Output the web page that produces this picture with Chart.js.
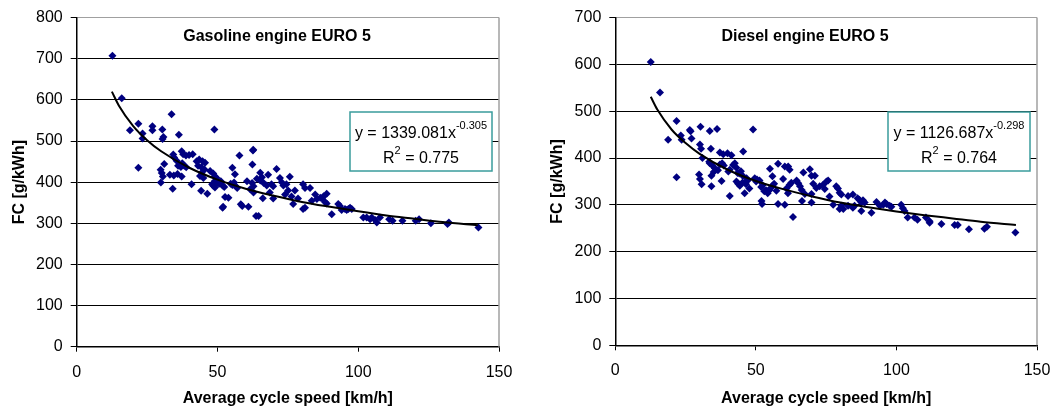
<!DOCTYPE html>
<html>
<head>
<meta charset="utf-8">
<script src="https://cdn.jsdelivr.net/npm/chart.js@4.4.0/dist/chart.umd.min.js"></script>
<style>
  html, body { margin: 0; padding: 0; background: #fff; }
  .wrap { position: relative; width: 1056px; height: 412px; }
  .wrap canvas { position: absolute; top: 0; }
</style>
</head>
<body>
<div class="wrap">
  <canvas id="gasoline" width="528" height="412" style="left:0"></canvas>
  <canvas id="diesel" width="528" height="412" style="left:528px"></canvas>
</div>
<script>
// ---- data ----
const xTicks = [0, 50, 100, 150];

const gasolineSpeed = [
  12.7, 16.0, 18.9, 21.9, 21.9, 23.4, 23.4, 26.9, 26.9, 30.4, 30.5, 30.8, 29.9, 29.8, 30.2, 30.6, 31.1,
  33.7, 36.3, 34.1, 33.1, 34.5, 35.8, 37.3, 34.3, 34.6, 35.5, 36.0, 37.3, 37.8, 38.8, 39.9, 41.2, 37.5, 38.2, 38.9, 37.0, 40.8,
  42.6, 43.5, 44.7, 45.6, 43.1, 44.3, 45.4, 43.8, 44.4, 45.0, 44.2, 46.4,
  47.4, 48.5, 49.1, 49.7, 49.1, 48.1, 48.5, 49.1, 51.2, 50.1, 50.6, 51.8, 52.4, 52.0, 51.8, 52.7, 53.9, 55.3, 56.2, 55.3,
  56.5, 55.9, 54.7, 57.0, 57.8, 58.3, 58.8, 48.9,
  61.0, 62.4, 62.6, 62.7, 60.5, 62.3, 62.8, 61.6, 62.8, 63.7, 64.0, 65.2, 66.4, 67.5, 65.2, 65.8, 66.1, 64.6,
  68.0, 69.2, 69.8, 68.6, 69.8, 71.0, 72.2, 72.8, 73.4, 74.0, 74.5, 75.1, 75.7, 76.3, 76.9, 77.5, 78.6, 80.4, 81.1, 82.9, 80.4, 81.1,
  83.5, 84.7, 85.3, 86.5, 87.1, 87.7, 88.8, 88.2, 88.8, 90.6, 92.9, 93.5, 94.1, 95.3, 95.9, 96.5, 97.1, 97.7,
  101.8, 103.0, 104.2, 104.8, 106.0, 106.6, 107.7, 111.0, 112.2, 115.7, 120.4, 121.6, 125.8, 131.7, 132.2, 142.7
];
const gasolineFC = [
  707, 604, 526, 542, 435, 518, 506, 536, 526, 528, 505, 510, 399, 430, 422, 414, 444,
  565, 515, 384, 418, 416, 420, 414, 467, 460, 452, 440, 475, 468, 465, 466, 468, 446, 440, 436, 437, 395,
  451, 455, 451, 447, 440, 436, 431, 415, 423, 410, 379, 372,
  427, 421, 414, 410, 403, 395, 391, 387, 402, 398, 396, 392, 388, 340, 338, 364, 362, 435, 419, 393,
  390, 399, 396, 386, 465, 346, 342, 528,
  340, 443, 477, 479, 402, 398, 390, 383, 375, 318, 408, 404, 398, 392, 423, 412, 361, 318,
  418, 395, 390, 375, 360, 432, 410, 400, 392, 370, 395, 380, 413, 365, 347, 380, 360, 395, 386, 386, 335, 338,
  355, 370, 359, 362, 361, 366, 372, 352, 348, 322, 347, 342, 332, 335, 332, 335, 338, 335,
  314, 314, 310, 314, 308, 302, 314, 310, 306, 306, 306, 310, 300, 298, 302, 290
];
const gasolineTrendSpeed = [12.5, 15, 20, 25, 30, 40, 50, 60, 70, 80, 90, 100, 110, 120, 130, 142.5];
const gasolineTrendFC = [620, 586, 537, 502, 475, 435, 406, 384, 367, 352, 340, 329, 319, 311, 303, 295];

const dieselSpeed = [
  12.6, 15.9, 18.8, 21.8, 21.8, 23.3, 23.6, 26.5, 26.8, 27.1, 30.3, 30.1, 30.5, 31.0, 29.8, 30.1, 30.7,
  33.6, 36.2, 34.0, 34.2, 33.4, 33.6, 34.5, 35.4, 35.0, 34.2, 36.5, 37.2, 37.8, 37.2, 38.4, 39.9, 41.3, 40.7,
  38.0, 38.6, 40.2, 40.7, 41.9, 42.5, 43.1, 43.5, 44.1, 44.7, 45.3, 45.5, 46.7,
  43.1, 43.7, 44.3, 45.3, 46.5, 47.1, 47.7, 46.0, 49.0, 49.6, 50.1, 50.4, 51.3, 51.9, 52.4, 53.0, 53.6, 54.2, 54.8,
  55.3, 55.9, 52.0, 52.2, 55.0, 55.9, 56.5, 57.3, 57.9, 57.9,
  59.7, 60.3, 60.3, 60.9, 61.4, 61.5, 62.0, 62.6, 63.2, 62.0, 64.5, 65.1, 65.7, 66.3, 66.9, 67.4, 66.4, 69.2, 69.8,
  71.0, 70.4, 69.8, 69.8, 71.5,
  72.7, 73.9, 74.5, 75.1, 75.7, 76.2, 77.5, 78.6, 79.2, 79.8, 79.8, 80.4, 80.4, 81.1, 82.8, 82.8, 84.5, 84.5, 85.1,
  86.2, 86.8, 87.5, 88.1, 88.7, 87.5, 91.1,
  92.9, 94.1, 95.3, 95.9, 96.5, 97.6, 98.2, 101.7, 102.3, 102.9, 104.0, 106.4, 107.5, 110.5, 111.8, 111.8, 116.0,
  120.7, 121.8, 125.8, 131.3, 132.2, 142.3
];
const dieselFC = [
  605, 540, 439, 479, 359, 448, 439, 460, 457, 442, 467, 429, 420, 400, 365, 355, 344,
  458, 462, 420, 340, 392, 389, 384, 378, 370, 362, 374, 386, 351, 412, 408, 410, 406, 319,
  389, 384, 371, 375, 385, 389, 379, 368, 367, 372, 362, 414, 357,
  350, 345, 341, 348, 344, 352, 335, 325, 461, 357, 350, 354, 352, 338, 342, 329, 331, 325, 331,
  336, 341, 308, 302, 377, 361, 345, 330, 388, 302,
  355, 300, 382, 335, 325, 382, 375, 347, 274, 343, 352, 346, 340, 332, 369, 323, 308, 376, 362,
  362, 345, 323, 305, 336,
  340, 343, 334, 350, 352, 318, 300, 340, 335, 326, 291, 322, 298, 291, 319, 298, 322, 294, 298,
  314, 311, 305, 310, 305, 287, 283,
  306, 298, 300, 305, 302, 298, 296, 300, 293, 287, 273, 273, 268, 273, 265, 262, 259,
  257, 257, 248, 249, 253, 241
];
const dieselTrendSpeed = [12.6, 15, 20, 25, 30, 40, 50, 60, 70, 80, 90, 100, 110, 120, 130, 142.5];
const dieselTrendFC = [531, 503, 461, 432, 409, 375, 351, 333, 318, 305, 295, 286, 278, 271, 264, 257];

const FONT = '"Liberation Sans", Arial, sans-serif';

// title + equation box, drawn inside the plot area like the Excel original
const overlay = {
  id: 'overlay',
  afterDraw(chart, args, o) {
    const { ctx, chartArea: a } = chart;
    ctx.save();
    ctx.fillStyle = '#000';
    ctx.font = 'bold 16px ' + FONT;
    ctx.textAlign = 'center';
    ctx.textBaseline = 'middle';
    ctx.fillText(o.title, o.titleX, 37);

    // equation box
    const bw = 142, bh = 59;
    const bx = a.right - 7 - bw, by = 112;
    ctx.fillStyle = '#fff';
    ctx.fillRect(bx, by, bw, bh);
    ctx.strokeStyle = '#3a9c9c';
    ctx.lineWidth = 1.5;
    ctx.strokeRect(bx, by, bw, bh);

    const cx = bx + bw / 2;
    ctx.textAlign = 'left';
    ctx.textBaseline = 'alphabetic';
    ctx.fillStyle = '#000';
    // line 1: y = a x^b
    ctx.font = '16px ' + FONT;
    const w1 = ctx.measureText(o.eq).width;
    ctx.font = '11px ' + FONT;
    const w2 = ctx.measureText(o.exp).width;
    let x = cx - (w1 + w2) / 2;
    ctx.font = '16px ' + FONT;
    ctx.fillText(o.eq, x, 138);
    ctx.font = '11px ' + FONT;
    ctx.fillText(o.exp, x + w1, 129);
    // line 2: R^2 = ...
    ctx.font = '16px ' + FONT;
    const wr = ctx.measureText('R').width;
    const wv = ctx.measureText(o.r2).width;
    ctx.font = '11px ' + FONT;
    const ws = ctx.measureText('2').width;
    x = cx - (wr + ws + wv) / 2;
    ctx.font = '16px ' + FONT;
    ctx.fillText('R', x, 163);
    ctx.fillText(o.r2, x + wr + ws, 163);
    ctx.font = '11px ' + FONT;
    ctx.fillText('2', x + wr, 154);
    ctx.restore();
  },
  beforeDatasetsDraw(chart) {
    // grey plot-area frame on the right
    const { ctx, chartArea: a } = chart;
    ctx.save();
    ctx.strokeStyle = '#a0a0a0';
    ctx.lineWidth = 1.5;
    ctx.beginPath();
    ctx.moveTo(a.right, a.top);
    ctx.lineTo(a.right, a.bottom);
    ctx.stroke();
    ctx.restore();
  }
};

function makeChart(id, c) {
  const points = c.speed.map((s, i) => ({ x: s, y: c.fc[i] }));
  const trend = c.trendSpeed.map((s, i) => ({ x: s, y: c.trendFC[i] }));
  return new Chart(document.getElementById(id), {
    type: 'scatter',
    data: {
      datasets: [
        {
          data: trend,
          showLine: true,
          borderColor: '#000',
          borderWidth: 2,
          pointRadius: 0,
          cubicInterpolationMode: 'monotone',
          fill: false
        },
        {
          data: points,
          pointStyle: 'rectRot',
          pointRadius: 4,
          backgroundColor: '#000080',
          borderColor: '#000080',
          borderWidth: 0
        }
      ]
    },
    options: {
      responsive: false,
      animation: false,
      events: [],
      layout: { padding: { left: 0, top: c.top, right: c.right, bottom: 0 } },
      plugins: {
        legend: { display: false },
        tooltip: { enabled: false },
        overlay: { title: c.title, titleX: c.titleX, eq: c.eq, exp: c.exp, r2: c.r2 }
      },
      scales: {
        x: {
          type: 'linear',
          min: xTicks[0],
          max: xTicks[xTicks.length - 1],
          afterBuildTicks: s => { s.ticks = xTicks.map(v => ({ value: v })); },
          afterFit: s => { s.height = c.xHeight; s.paddingLeft = 0; s.paddingRight = 0; },
          ticks: { color: '#000', font: { family: FONT, size: 16 }, padding: 11, maxRotation: 0 },
          grid: { drawOnChartArea: false, drawTicks: true, tickLength: 5, color: '#000' },
          border: { color: '#000', width: 1.5 },
          title: {
            display: true, text: 'Average cycle speed [km/h]', color: '#000',
            font: { family: FONT, size: 16, weight: 'bold' }, padding: { top: 0, bottom: 4 }
          }
        },
        y: {
          min: 0,
          max: c.yMax,
          ticks: { stepSize: 100, color: '#000', font: { family: FONT, size: 16 }, padding: 8 },
          afterFit: s => { s.width = c.plotLeft; },
          grid: {
            color: ctx => (ctx.tick && ctx.tick.value === c.yMax ? '#a0a0a0' : '#000'),
            tickColor: '#000',
            tickLength: 6,
            lineWidth: 1
          },
          border: { color: '#000', width: 1.5 },
          title: {
            display: true, text: 'FC [g/kWh]', color: '#000',
            font: { family: FONT, size: 16, weight: 'bold' }, padding: { top: c.yTitlePad, bottom: 0 }
          }
        }
      }
    },
    plugins: [overlay]
  });
}

makeChart('gasoline', {
  speed: gasolineSpeed, fc: gasolineFC,
  trendSpeed: gasolineTrendSpeed, trendFC: gasolineTrendFC,
  yMax: 800, top: 15.5, right: 29, xHeight: 65.3, plotLeft: 76.7, yTitlePad: 10,
  title: 'Gasoline engine EURO 5', titleX: 277,
  eq: 'y = 1339.081x', exp: '-0.305', r2: ' = 0.775'
});

makeChart('diesel', {
  speed: dieselSpeed, fc: dieselFC,
  trendSpeed: dieselTrendSpeed, trendFC: dieselTrendFC,
  yMax: 700, top: 15.3, right: 19, xHeight: 66.7, plotLeft: 87.3, yTitlePad: 20,
  title: 'Diesel engine EURO 5', titleX: 277,
  eq: 'y = 1126.687x', exp: '-0.298', r2: ' = 0.764'
});
</script>
</body>
</html>
